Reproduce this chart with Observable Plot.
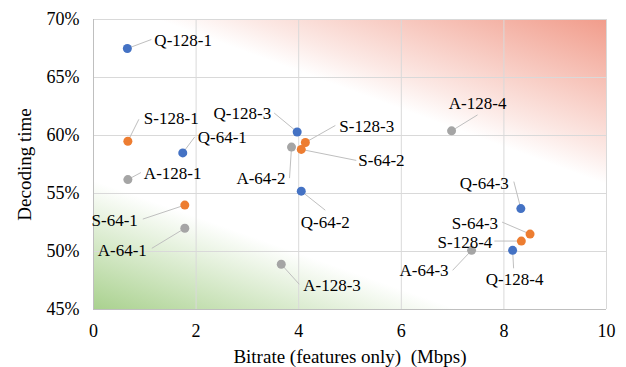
<!DOCTYPE html>
<html>
<head>
<meta charset="utf-8">
<script src="https://cdn.jsdelivr.net/npm/d3@7"></script>
<script src="https://cdn.jsdelivr.net/npm/@observablehq/plot@0.6"></script>
<style>
  html, body { margin: 0; padding: 0; background: #fff; }
</style>
</head>
<body>
<div id="chart"></div>
<script>
// ---- data ----
const labels   = ["Q-128-1","S-128-1","Q-64-1","A-128-1","Q-128-3","A-64-2","S-128-3","S-64-2","A-128-4","Q-64-2","S-64-1","A-64-1","A-128-3","Q-64-3","S-64-3","S-128-4","Q-128-4","A-64-3"];
const bitrate  = [0.66, 0.67, 1.74, 0.67, 3.97, 3.86, 4.13, 4.05, 6.98, 4.05, 1.78, 1.78, 3.66, 8.33, 8.51, 8.34, 8.17, 7.37];
const decoding = [0.675,0.595,0.585,0.562,0.603,0.590,0.594,0.588,0.604,0.552,0.540,0.520,0.489,0.537,0.515,0.509,0.501,0.501];
const xTicks = [0, 2, 4, 6, 8, 10];
const yTicks = [0.45, 0.50, 0.55, 0.60, 0.65, 0.70];
const xTitle = "Bitrate (features only)  (Mbps)";
const yTitle = "Decoding time";

// ---- annotation layout (pixel offsets from each point) ----
// [textDx, textDy, anchor, lineDx, lineDy]
const labelLayout = {
  "Q-128-1": [27, -8, "start", 24, -9],
  "S-128-1": [16, -23, "start", 11, -22],
  "Q-64-1":  [15, -15, "start", 12, -16],
  "A-128-1": [16, -6, "start", 13, -7],
  "Q-128-3": [-26, -18, "end", -23, -19],
  "A-64-2":  [-6, 31, "end", -2, 31],
  "S-128-3": [34, -16, "start", 30, -17],
  "S-64-2":  [57, 11, "start", 55, 11],
  "A-128-4": [26, -27, "middle", 26, -16],
  "Q-64-2":  [24, 31, "middle", 24, 19],
  "S-64-1":  [-47, 15, "end", -42, 14],
  "A-64-1":  [-38, 22, "end", -33, 20],
  "A-128-3": [22, 21, "start", 18, 20],
  "Q-64-3":  [-12, -25, "end", -7, -27],
  "S-64-3":  [-32, -11, "end", -28, -12],
  "S-128-4": [-29, 1, "end", -27, 0],
  "Q-128-4": [2, 29, "middle", 1, 18],
  "A-64-3":  [-23, 20, "end", -19, 20]
};

const W = 626, H = 367;
const M = {left: 93, right: 20, top: 19, bottom: 58};
const colors = {Q: "#4472C4", S: "#ED7D31", A: "#A5A5A5"};
const font = "'Liberation Serif', 'Times New Roman', serif";

const X = Plot.scale({x: {domain: [0, 10], range: [M.left, W - M.right]}});
const Y = Plot.scale({y: {domain: [0.45, 0.70], range: [H - M.bottom, M.top]}});

const pts = labels.map((name, i) => {
  const [tdx, tdy, anchor, ldx, ldy] = labelLayout[name];
  const px = X.apply(bitrate[i]), py = Y.apply(decoding[i]);
  return {
    name, series: name[0], x: bitrate[i], y: decoding[i], anchor,
    tx: X.invert(px + tdx), ty: Y.invert(py + tdy),
    lx: X.invert(px + ldx), ly: Y.invert(py + ldy)
  };
});

// axis-title positions (pixel layout converted through the scales)
const titles = [
  {text: xTitle, x: X.invert((M.left + W - M.right) / 2), y: Y.invert(H - M.bottom + 47), rotate: 0},
  {text: yTitle, x: X.invert(24), y: Y.invert((M.top + H - M.bottom) / 2), rotate: -90}
];

const textMark = (anchor) => Plot.text(pts.filter(d => d.anchor === anchor), {
  x: "tx", y: "ty", text: "name", textAnchor: anchor, lineAnchor: "middle",
  fontSize: 17, fill: "#000", fontFamily: font
});

const chart = Plot.plot({
  width: W, height: H,
  marginLeft: M.left, marginRight: M.right, marginTop: M.top, marginBottom: M.bottom,
  style: {fontFamily: font, fontSize: "18px", color: "#000", background: "#fff"},
  x: {domain: [0, 10]},
  y: {domain: [0.45, 0.70]},
  marks: [
    Plot.frame({fill: "url(#gGreen)", stroke: null}),
    Plot.frame({fill: "url(#gRed)", stroke: null}),
    Plot.gridX(xTicks, {stroke: "#d9d9d9", strokeOpacity: 1}),
    Plot.gridY(yTicks, {stroke: "#d9d9d9", strokeOpacity: 1}),
    Plot.ruleX([0], {stroke: "#bfbfbf"}),
    Plot.ruleY([0.45], {stroke: "#bfbfbf"}),
    Plot.link(pts, {x1: "x", y1: "y", x2: "lx", y2: "ly", stroke: "#bfbfbf", strokeWidth: 1}),
    Plot.dot(pts, {x: "x", y: "y", r: 4.5, fill: d => colors[d.series], stroke: null}),
    textMark("start"), textMark("end"), textMark("middle"),
    Plot.axisX(xTicks, {tickSize: 0, tickPadding: 15, fontSize: 18, label: null}),
    Plot.axisY(yTicks, {tickSize: 0, tickPadding: 14, fontSize: 18, label: null, tickFormat: d3.format(".0%")}),
    Plot.text(titles.slice(0, 1), {x: "x", y: "y", text: "text", textAnchor: "middle", lineAnchor: "middle", fontSize: 19, fontFamily: font, clip: false}),
    Plot.text(titles.slice(1), {x: "x", y: "y", text: "text", rotate: -90, textAnchor: "middle", lineAnchor: "middle", fontSize: 19, fontFamily: font, clip: false})
  ]
});

// gradient definitions (styles for the background frames)
const svg = d3.select(chart.tagName.toLowerCase() === "svg" ? chart : chart.querySelector("svg"));
const defs = svg.insert("defs", ":first-child");
const red = defs.append("linearGradient").attr("id", "gRed")
  .attr("x1", 0.74).attr("y1", 0.40).attr("x2", 1).attr("y2", 0);
red.append("stop").attr("offset", 0).attr("stop-color", "#f19c8b").attr("stop-opacity", 0);
red.append("stop").attr("offset", 0.2).attr("stop-color", "#f19c8b").attr("stop-opacity", 0.22);
red.append("stop").attr("offset", 1).attr("stop-color", "#f19c8b").attr("stop-opacity", 1);
const green = defs.append("linearGradient").attr("id", "gGreen")
  .attr("x1", 0.2).attr("y1", 0.68).attr("x2", 0).attr("y2", 1);
green.append("stop").attr("offset", 0).attr("stop-color", "#a9d18e").attr("stop-opacity", 0);
green.append("stop").attr("offset", 0.25).attr("stop-color", "#a9d18e").attr("stop-opacity", 0.25);
green.append("stop").attr("offset", 1).attr("stop-color", "#a9d18e").attr("stop-opacity", 1);

document.getElementById("chart").appendChild(chart);
</script>
</body>
</html>
